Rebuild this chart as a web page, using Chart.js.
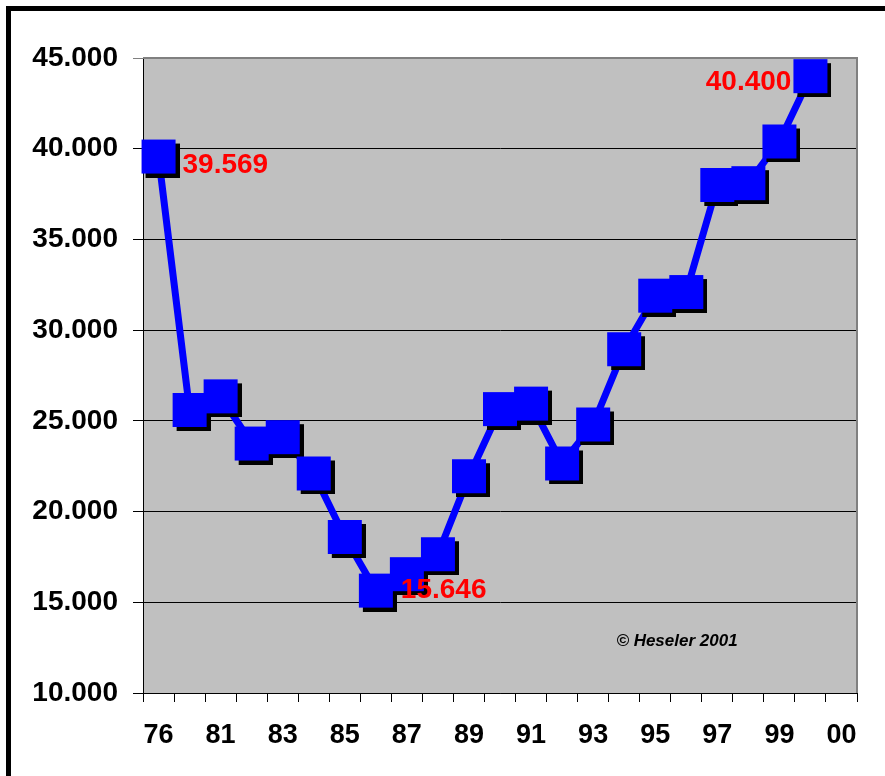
<!DOCTYPE html>
<html>
<head>
<meta charset="utf-8">
<script src="https://cdn.jsdelivr.net/npm/chart.js@4/dist/chart.umd.min.js"></script>
<style>
  html, body { margin: 0; padding: 0; background: #fff; }
  canvas { display: block; }
</style>
</head>
<body>
<canvas id="chart" width="885" height="776"></canvas>
<script>
// Year slots along the category axis (one spare slot at the end)
const categories = ['1976', '1980', '1981', '1982', '1983', '1984', '1985', '1986', '1987',
  '1988', '1989', '1990', '1991', '1992', '1993', '1994', '1995', '1996', '1997', '1998',
  '1999', '2000', '2001'];
// Yearly values
const values = [39569, 25600, 26350, 23750, 24100, 22100, 18600, 15646, 16550, 17650,
  21950, 25650, 25950, 22650, 24800, 28950, 31900, 32100, 38000, 38100, 40400, 44000];
// Labels printed under every second slot
const tickLabels = ['76', '81', '83', '85', '87', '89', '91', '93', '95', '97', '99', '00'];
// Points whose value is printed next to them
const labelledPoints = [0, 7, 20];

const fmt = v => String(Math.round(v)).replace(/\B(?=(\d{3})+(?!\d))/g, '.');
const FONT = '"Liberation Sans", Arial, sans-serif';

// Square marker with a drop shadow
function makeMarker() {
  const c = document.createElement('canvas');
  c.width = 42; c.height = 42;
  const g = c.getContext('2d');
  g.fillStyle = '#000000';
  g.fillRect(8, 8, 34, 34);
  g.fillStyle = '#0000FF';
  g.fillRect(4, 4, 34, 34);
  return c;
}

const labelOffsets = {
  0: { dx: 24, dy: 9, align: 'left' },
  7: { dx: 25, dy: 0, align: 'left' },
  20: { dx: 12, dy: -59, align: 'right' }
};

const framePlugin = {
  id: 'frame',
  beforeDraw(chart) {
    const { ctx, chartArea: a } = chart;
    ctx.save();
    ctx.fillStyle = '#ffffff';
    ctx.fillRect(0, 0, chart.width, chart.height);
    ctx.fillStyle = '#000000';
    ctx.fillRect(6, 6, chart.width - 6, 5);
    ctx.fillRect(6, 6, 5, chart.height - 6);
    ctx.fillStyle = '#C0C0C0';
    ctx.fillRect(a.left, a.top, a.right - a.left, a.bottom - a.top);
    ctx.restore();
  },
  afterDraw(chart) {
    const { ctx, chartArea: a } = chart;
    ctx.save();
    ctx.strokeStyle = '#808080';
    ctx.lineWidth = 2;
    ctx.beginPath();
    ctx.moveTo(a.left, a.top);
    ctx.lineTo(a.right, a.top);
    ctx.lineTo(a.right, a.bottom);
    ctx.stroke();
    ctx.restore();
  }
};

const valueLabelPlugin = {
  id: 'valueLabels',
  afterDatasetsDraw(chart) {
    const { ctx } = chart;
    const meta = chart.getDatasetMeta(0);
    ctx.save();
    ctx.font = 'bold 28px ' + FONT;
    ctx.fillStyle = '#FF0000';
    ctx.textBaseline = 'middle';
    labelledPoints.forEach(i => {
      const p = meta.data[i];
      const o = labelOffsets[i];
      ctx.textAlign = o.align;
      ctx.fillText(fmt(values[i]), p.x + o.dx, p.y + o.dy);
    });
    // copyright note inside the plot
    ctx.font = 'italic bold 17px ' + FONT;
    ctx.fillStyle = '#000000';
    ctx.textAlign = 'center';
    ctx.fillText('\u00A9 Heseler 2001', 677, 641);
    ctx.restore();
  }
};

new Chart(document.getElementById('chart'), {
  type: 'line',
  data: {
    labels: categories,
    datasets: [{
      data: values,
      borderColor: '#0000FF',
      borderWidth: 7,
      tension: 0,
      pointStyle: makeMarker(),
      pointRadius: 21,
      pointHoverRadius: 21,
      clip: false
    }]
  },
  options: {
    responsive: false,
    animation: false,
    devicePixelRatio: 1,
    layout: { padding: { left: 0, top: 58, right: 23, bottom: 0 } },
    plugins: { legend: { display: false }, tooltip: { enabled: false } },
    scales: {
      x: {
        offset: true,
        grid: { display: true, drawOnChartArea: false, drawTicks: true, tickLength: 9, offset: true, color: '#000000' },
        border: { color: '#000000', width: 1 },
        ticks: {
          autoSkip: false,
          maxRotation: 0,
          padding: 17,
          color: '#000000',
          font: { family: FONT, size: 27, weight: 'bold' },
          callback: (v, i) => (i % 2 === 0 ? tickLabels[i / 2] : '')
        },
        afterFit(scale) { scale.height = 83; }
      },
      y: {
        min: 10000,
        max: 45000,
        grid: {
          tickLength: 10,
          color: ctx => (ctx.tick && ctx.tick.value === 45000 ? '#808080' : '#000000'),
          lineWidth: 1
        },
        border: { color: '#000000', width: 1 },
        ticks: {
          stepSize: 5000,
          padding: 15,
          color: '#000000',
          font: { family: FONT, size: 28, weight: 'bold' },
          callback: v => fmt(v)
        },
        afterFit(scale) { scale.width = 143; }
      }
    }
  },
  plugins: [framePlugin, valueLabelPlugin]
});
</script>
</body>
</html>
